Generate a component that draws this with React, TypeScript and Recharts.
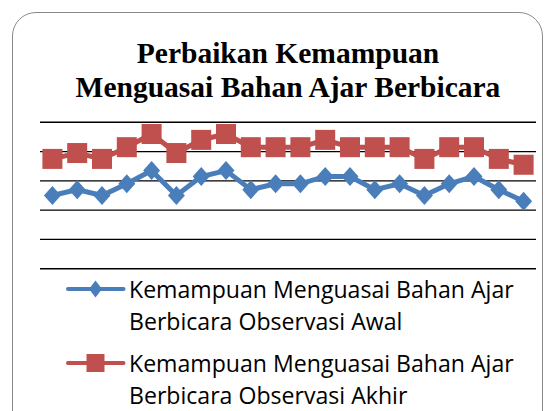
import React from "react";
import { LineChart, Line, XAxis, YAxis, CartesianGrid } from "recharts";

const observations = [
  "1", "2", "3", "4", "5", "6", "7", "8", "9", "10",
  "11", "12", "13", "14", "15", "16", "17", "18", "19", "20",
];
const awal = [50, 54, 50, 58, 67, 50, 63, 67, 54, 58, 58, 63, 63, 54, 58, 50, 58, 63, 54, 46];
const akhir = [75, 79, 75, 83, 92, 79, 88, 92, 83, 83, 83, 88, 83, 83, 83, 75, 83, 83, 75, 71];
const yTicks = [0, 20, 40, 60, 80, 100];

const titleLines = ["Perbaikan Kemampuan", "Menguasai Bahan Ajar Berbicara"];
const seriesNames = [
  ["Kemampuan Menguasai Bahan Ajar", "Berbicara Observasi Awal"],
  ["Kemampuan Menguasai Bahan Ajar", "Berbicara Observasi Akhir"],
];

const BLUE = "#4A7EBB";
const RED = "#C0504D";

const data = observations.map((obs, i) => ({ obs, awal: awal[i], akhir: akhir[i] }));

const Diamond = (props: any) => {
  const { cx, cy, index } = props;
  if (cx == null || cy == null) return null;
  return (
    <path
      key={`d${index}`}
      d={`M${cx},${cy - 9.5} L${cx + 8.5},${cy} L${cx},${cy + 9.5} L${cx - 8.5},${cy} Z`}
      fill={BLUE}
    />
  );
};

const Square = (props: any) => {
  const { cx, cy, index } = props;
  if (cx == null || cy == null) return null;
  return <rect key={`s${index}`} x={cx - 10} y={cy - 10} width={20} height={20} fill={RED} />;
};

const LegendRow = ({ color, square, lines, top }: any) => (
  <div style={{ position: "absolute", left: 64, top, display: "flex" }}>
    <svg width={65} height={32} style={{ flex: "none" }}>
      <line x1={4} y1={16} x2={59.5} y2={16} stroke={color} strokeWidth={4} strokeLinecap="round" />
      {square ? (
        <rect x={22.5} y={7} width={18} height={18} fill={color} />
      ) : (
        <path d="M31.5,7.5 L38,16 L31.5,24.5 L25,16 Z" fill={color} />
      )}
    </svg>
    <div style={{ fontFamily: "'Open Sans', sans-serif", fontSize: 23.1, lineHeight: "32px", color: "#000", whiteSpace: "nowrap" }}>
      {lines.map((l: string) => (
        <div key={l}>{l}</div>
      ))}
    </div>
  </div>
);

export default function App() {
  return (
    <div style={{ position: "absolute", left: 0, top: 0, width: 554, height: 411, overflow: "hidden", background: "#fff" }}>
      <div
        style={{
          position: "absolute",
          left: 12,
          top: 12,
          width: 529,
          height: 430,
          border: "1.5px solid #8a8a8a",
          borderRadius: 24,
        }}
      />
      <div
        style={{
          position: "absolute",
          left: 0,
          top: 36,
          width: 576,
          textAlign: "center",
          fontFamily: "'Liberation Serif', 'Times New Roman', serif",
          fontWeight: "bold",
          fontSize: 29.5,
          lineHeight: "34px",
          color: "#000",
        }}
      >
        {titleLines.map((t) => (
          <div key={t}>{t}</div>
        ))}
      </div>
      <div style={{ position: "absolute", left: 0, top: 0 }}>
        <LineChart width={554} height={411} data={data} margin={{ top: 122.3, left: 40, right: 18, bottom: 142.3 }}>
          <CartesianGrid vertical={false} stroke="#000" strokeWidth={1.4} />
          <XAxis dataKey="obs" scale="band" hide />
          <YAxis domain={[0, 100]} ticks={yTicks} hide />
          <Line
            dataKey="awal"
            stroke={BLUE}
            strokeWidth={5}
            dot={Diamond}
            isAnimationActive={false}
          />
          <Line
            dataKey="akhir"
            stroke={RED}
            strokeWidth={5}
            dot={Square}
            isAnimationActive={false}
          />
        </LineChart>
      </div>
      <LegendRow color={BLUE} square={false} lines={seriesNames[0]} top={273} />
      <LegendRow color={RED} square={true} lines={seriesNames[1]} top={347} />
    </div>
  );
}
